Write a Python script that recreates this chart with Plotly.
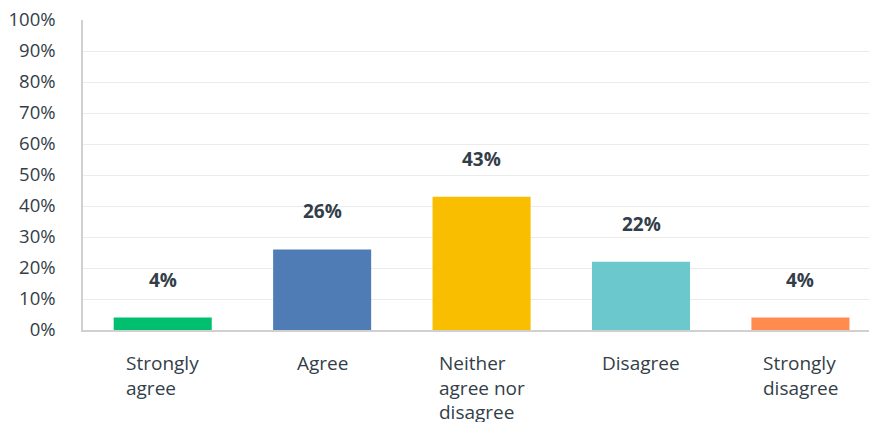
import plotly.graph_objects as go

categories = ["Strongly agree", "Agree", "Neither agree nor disagree", "Disagree", "Strongly disagree"]
wrapped_labels = ["Strongly<br>agree", "Agree", "Neither<br>agree nor<br>disagree", "Disagree", "Strongly<br>disagree"]
values = [4, 26, 43, 22, 4]
colors = ["#00bf6f", "#507cb6", "#f9be00", "#6bc8cd", "#ff8b4f"]
y_ticks = list(range(0, 101, 10))

TEXT = "#333e48"
FONT = "Open Sans"

fig = go.Figure(
    go.Bar(
        x=list(range(len(categories))),
        y=values,
        marker=dict(color=colors, line=dict(width=0)),
        width=0.615,
        hoverinfo="skip",
    )
)

# value labels above each bar
for i, v in enumerate(values):
    fig.add_annotation(
        x=i, y=v, text=f"<b>{v}%</b>", showarrow=False,
        yanchor="bottom", yshift=23,
        font=dict(family=FONT, size=19, color=TEXT),
    )

# category labels: block centred under the bar, lines left-aligned
for i, lab in enumerate(wrapped_labels):
    fig.add_annotation(
        x=i, y=0, yref="y", text=lab, showarrow=False,
        xanchor="center", yanchor="top", align="left", yshift=-18,
        font=dict(family=FONT, size=19, color=TEXT),
    )

fig.update_layout(
    width=869, height=422,
    margin=dict(l=83, r=0, t=20, b=92),
    paper_bgcolor="white", plot_bgcolor="white",
    showlegend=False,
    xaxis=dict(
        range=[-0.5, 4.43], showticklabels=False, showgrid=False,
        showline=True, linecolor="#d0d0d0", linewidth=1.5, zeroline=False,
        fixedrange=True,
    ),
    yaxis=dict(
        range=[0, 100], tickvals=y_ticks, ticktext=[f"{t}%" for t in y_ticks],
        showgrid=True, gridcolor="#ebebeb", gridwidth=1,
        showline=True, linecolor="#d0d0d0", linewidth=1.5, zeroline=False,
        ticks="", ticklabelstandoff=22,
        tickfont=dict(family=FONT, size=18.5, color=TEXT),
        fixedrange=True,
    ),
)

fig.write_html("out.html")
